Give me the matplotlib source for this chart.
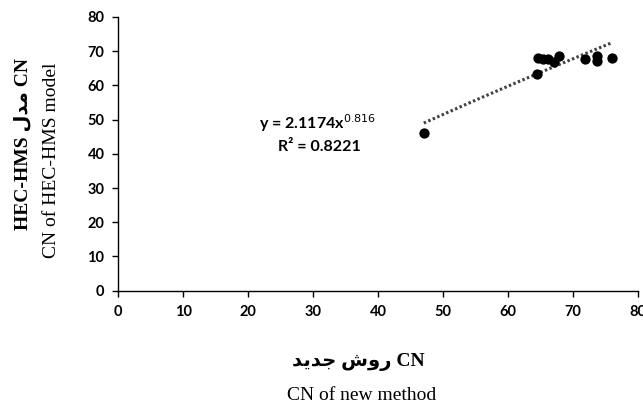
import numpy as np
import matplotlib
matplotlib.use("Agg")
import matplotlib.pyplot as plt

# Data
cn_new = [47.0, 64.4, 64.6, 65.3, 66.1, 67.0, 67.75, 71.8, 73.7, 73.7, 76.0]
cn_hms = [46.0, 63.4, 67.95, 67.8, 67.7, 66.8, 68.7, 67.7, 68.6, 67.0, 68.1]

# Power trendline coefficients (as printed on the chart)
coef_a = 2.1174
coef_b = 0.816
r2 = 0.8221

x_ticks = [0, 10, 20, 30, 40, 50, 60, 70, 80]
y_ticks = [0, 10, 20, 30, 40, 50, 60, 70, 80]

# Persian labels (presentation forms in display order)
fa_new_method = "\uFEAA\uFEF3\uFEAA\uFE9F \uFEB5\uFEED\uFEAD"   # روش جدید
fa_model = "\uFEDD\uFEAA\uFEE3"                               # مدل

W, H = 643, 412
fig = plt.figure(figsize=(W / 100, H / 100), dpi=100)
ax = fig.add_axes([118.3 / W, 1 - 290.7 / H, (638.3 - 118.3) / W, (290.7 - 17) / H])

ax.scatter(cn_new, cn_hms, s=55, color="black", zorder=3, linewidths=0)

xs = np.linspace(min(cn_new), max(cn_new), 100)
ax.plot(xs, coef_a * xs ** coef_b, color="#404040", lw=2.2,
        linestyle=(0, (0.8, 0.8)), zorder=2)

ax.set_xlim(0, 80)
ax.set_ylim(0, 80)
ax.set_xticks(x_ticks)
ax.set_yticks(y_ticks)
tick_font = dict(family=["Lato", "DejaVu Sans"], weight="bold", size=10.5)
ax.set_xticklabels([str(t) for t in x_ticks], **tick_font)
ax.set_yticklabels([str(t) for t in y_ticks], **tick_font)
ax.tick_params(direction="out", length=4, width=1, colors="black", pad=6)
for s in ("top", "right"):
    ax.spines[s].set_visible(False)
for s in ("left", "bottom"):
    ax.spines[s].set_color("black")
    ax.spines[s].set_linewidth(1)

# Equation text
ax.text(30.7, 49.0, f"y = {coef_a}x$^{{{coef_b}}}$",
        ha="center", va="center", fontsize=11.5, fontweight="bold",
        family=["Lato", "DejaVu Sans"])
ax.text(31.0, 42.0, f"R\u00b2 = {r2}", ha="center", va="center", fontsize=11.5,
        fontweight="bold", family=["Lato", "DejaVu Sans"])

# Axis labels
serif = ["Liberation Serif", "DejaVu Sans"]
fig.text(358 / W, 1 - 362 / H, fa_new_method + " CN", ha="center", va="center",
         fontsize=14, fontweight="bold", family=serif)
fig.text(362 / W, 1 - 396 / H, "CN of new method", ha="center", va="center",
         fontsize=14, family=serif)
fig.text(22 / W, 1 - 144 / H, "HEC-HMS " + fa_model + " CN", ha="center", va="center",
         rotation=90, fontsize=14, fontweight="bold", family=serif)
fig.text(52 / W, 1 - 160 / H, "CN of HEC-HMS model", ha="center", va="center",
         rotation=90, fontsize=14, family=serif)

fig.savefig("out.png", dpi=100, facecolor="white")
